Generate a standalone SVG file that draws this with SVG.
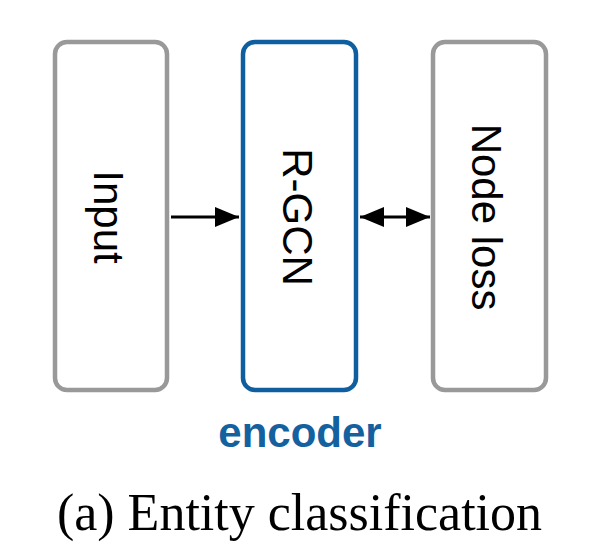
<svg xmlns="http://www.w3.org/2000/svg" width="616" height="551" viewBox="0 0 616 551">
  <style>
    .box { fill: #ffffff; stroke-width: 4.5; }
    .gray { stroke: #999999; }
    .blue { stroke: #0F5FA0; }
    .label { font-family: "Liberation Sans", Arial, sans-serif; font-size: 42px; fill: #000000; text-anchor: middle; }
    .edge { stroke: #000000; stroke-width: 3; fill: none; }
    .encoder { font-family: "Liberation Sans", Arial, sans-serif; font-size: 42px; font-weight: bold; fill: #1461A0; text-anchor: middle; }
    .caption { font-family: "Liberation Serif", "Times New Roman", serif; font-size: 52px; fill: #000000; text-anchor: middle; }
  </style>
  <defs>
    <marker id="head" viewBox="0 0 24 20" refX="24" refY="10" markerWidth="24" markerHeight="20" markerUnits="userSpaceOnUse" orient="auto-start-reverse">
      <path d="M0,0 L24,10 L0,20 Z" fill="#000000"/>
    </marker>
  </defs>

  <rect width="616" height="551" fill="#ffffff"/>

  <g id="node-input">
    <rect class="box gray" x="55" y="42" width="112" height="348" rx="12"/>
    <text class="label" transform="translate(109,217) rotate(90)" y="15">Input</text>
  </g>

  <g id="node-rgcn">
    <rect class="box blue" x="243" y="42" width="113" height="348" rx="12"/>
    <text class="label" transform="translate(298,217) rotate(90)" y="15">R-GCN</text>
  </g>

  <g id="node-loss">
    <rect class="box gray" x="433" y="42" width="113" height="348" rx="12"/>
    <text class="label" transform="translate(487,217) rotate(90)" y="15">Node loss</text>
  </g>

  <g id="connectors">
    <line class="edge" x1="171" y1="217" x2="239" y2="217" marker-end="url(#head)"/>
    <line class="edge" x1="360" y1="217" x2="430" y2="217" marker-start="url(#head)" marker-end="url(#head)"/>
  </g>

  <text class="encoder" x="300" y="447">encoder</text>
  <text class="caption" x="299.5" y="530">(a) Entity classification</text>
</svg>
